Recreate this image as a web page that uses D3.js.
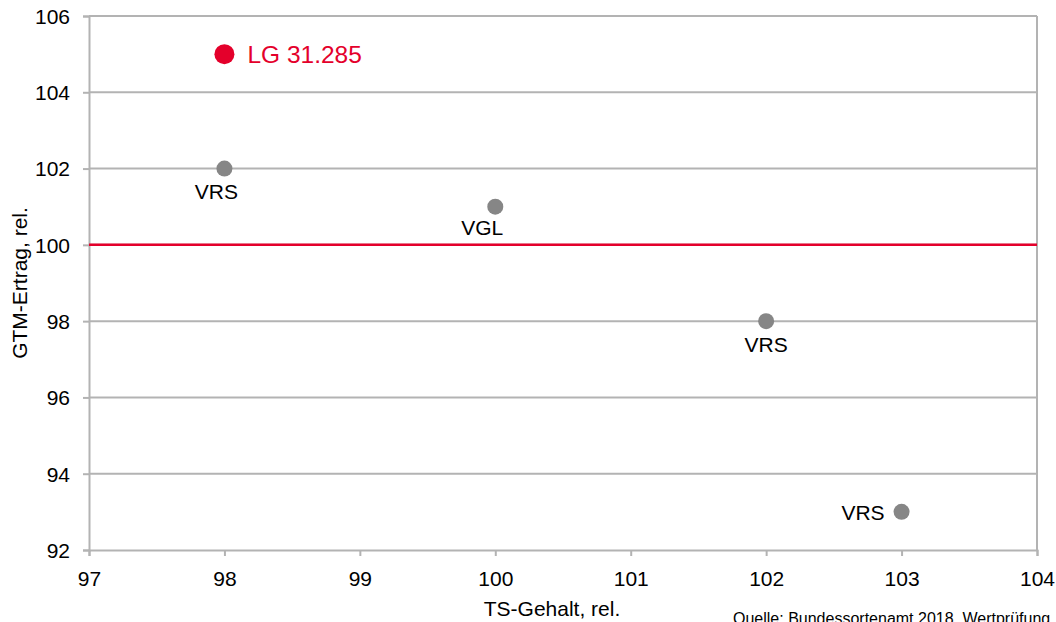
<!DOCTYPE html>
<html>
  <head>
    <meta charset="utf-8"/>
    <style>
body {
  margin: 0;
  background: #fff;
  font-family: "Liberation Sans", Arial, sans-serif;
}
svg text {
  fill: #000;
}
    </style>
  </head>
  <body>
    <svg id="chart" width="1056" height="622"></svg>
    <script src="https://cdnjs.cloudflare.com/ajax/libs/d3/7.8.5/d3.min.js"></script>
    <script>
const names = ["LG 31.285", "VRS", "VGL", "VRS", "VRS"];
const tsValues = [98, 98, 100, 102, 103];
const gtmValues = [105, 102, 101, 98, 93];
const xTicks = [97, 98, 99, 100, 101, 102, 103, 104];
const yTicks = [92, 94, 96, 98, 100, 102, 104, 106];
const refLine = 100;

const red = "#e4002b",
      grey = "#868686",
      gridc = "#b3b3b3";

const svg = d3.select("#chart");
const mLeft = 89, mRight = 1037, mTop = 16, mBottom = 550;

const x = d3.scaleLinear().domain([97, 104]).range([mLeft, mRight]);
const y = d3.scaleLinear().domain([92, 106]).range([mBottom, mTop]);

// horizontal gridlines
svg.append("g")
  .selectAll("line")
  .data(yTicks.slice(1))
  .join("line")
    .attr("x1", mLeft).attr("x2", mRight)
    .attr("y1", d => y(d)).attr("y2", d => y(d))
    .attr("stroke", gridc).attr("stroke-width", 2);

// right border
svg.append("line")
  .attr("x1", mRight).attr("x2", mRight)
  .attr("y1", mTop).attr("y2", mBottom)
  .attr("stroke", gridc).attr("stroke-width", 2);

const xAxis = svg.append("g")
  .attr("transform", `translate(0,${mBottom})`)
  .call(d3.axisBottom(x).tickValues(xTicks).tickSize(6).tickPadding(15).tickFormat(d3.format("d")));
const yAxis = svg.append("g")
  .attr("transform", `translate(${mLeft},0)`)
  .call(d3.axisLeft(y).tickValues(yTicks).tickSize(6).tickPadding(13).tickFormat(d3.format("d")));

[xAxis, yAxis].forEach(g => {
  g.select(".domain").attr("stroke", gridc).attr("stroke-width", 2);
  g.selectAll(".tick line").attr("stroke", gridc).attr("stroke-width", 2);
  g.selectAll(".tick text")
    .attr("font-family", "Liberation Sans, Arial, sans-serif")
    .attr("font-size", 21).attr("fill", "#000");
});
yAxis.selectAll(".tick text").attr("dy", "0.35em");

// reference line
svg.append("line")
  .attr("x1", mLeft).attr("x2", mRight)
  .attr("y1", y(refLine)).attr("y2", y(refLine))
  .attr("stroke", red).attr("stroke-width", 2.5);

const pts = names.map((n, i) => ({ name: n, ts: tsValues[i], gtm: gtmValues[i], main: i === 0 }));

svg.append("g")
  .selectAll("circle")
  .data(pts)
  .join("circle")
    .attr("cx", d => x(d.ts))
    .attr("cy", d => y(d.gtm))
    .attr("r", d => d.main ? 10 : 8)
    .attr("fill", d => d.main ? red : grey);

// label placement per point: [dx, dy, anchor]
const labelPlace = [[23, 9, "start"], [-8, 30, "middle"], [-13, 28, "middle"], [0, 31, "middle"], [-17, 8, "end"]];

svg.append("g")
  .selectAll("text")
  .data(pts)
  .join("text")
    .attr("x", (d, i) => x(d.ts) + labelPlace[i][0])
    .attr("y", (d, i) => y(d.gtm) + labelPlace[i][1])
    .attr("text-anchor", (d, i) => labelPlace[i][2])
    .attr("font-size", d => d.main ? 24.5 : 21)
    .style("fill", d => d.main ? red : "#000")
    .text(d => d.name);

svg.append("text")
  .attr("x", 552)
  .attr("y", 616)
  .attr("text-anchor", "middle")
  .attr("font-size", 21)
  .text("TS-Gehalt, rel.");

svg.append("text")
  .attr("transform", `translate(27,283) rotate(-90)`)
  .attr("text-anchor", "middle")
  .attr("font-size", 21)
  .text("GTM-Ertrag, rel.");

svg.append("text")
  .attr("x", 733)
  .attr("y", 624)
  .attr("font-size", 16)
  .text("Quelle: Bundessortenamt 2018, Wertprüfung");
    </script>
  </body>
</html>
